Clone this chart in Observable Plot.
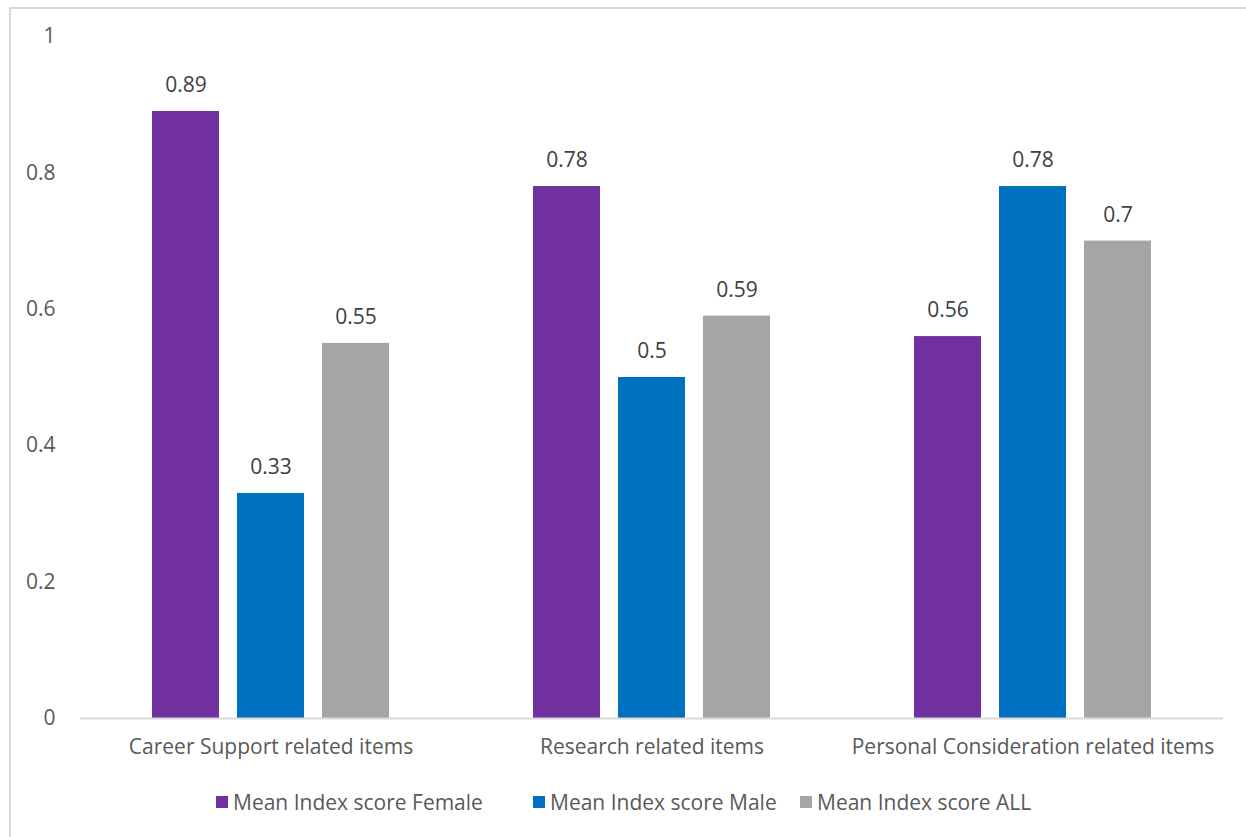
<!DOCTYPE html>
<html>
<head>
<meta charset="utf-8">
<script src="https://cdn.jsdelivr.net/npm/d3@7"></script>
<script src="https://cdn.jsdelivr.net/npm/@observablehq/plot@0.6"></script>
<style>
  html, body { margin: 0; padding: 0; background: #fff; }
  body { width: 1246px; height: 837px; position: relative; overflow: hidden; font-family: "Open Sans", sans-serif; }
  #frame { position: absolute; left: 9px; top: 7px; width: 1400px; height: 1000px; border-left: 2px solid #d9d9d9; border-top: 2px solid #d9d9d9; box-sizing: border-box; }
  #chart { position: absolute; left: 0; top: 0; }
  .legend-item { position: absolute; top: 788px; display: flex; align-items: center; font-size: 21px; color: #595959; white-space: nowrap; }
  .swatch { width: 12px; height: 12px; margin-right: 5px; }
</style>
</head>
<body>
<div id="frame"></div>
<div id="chart"></div>
<div id="legend"></div>
<script>
const categories = ["Career Support related items", "Research related items", "Personal Consideration related items"];
const series = ["Mean Index score Female", "Mean Index score Male", "Mean Index score ALL"];
const female = [0.89, 0.78, 0.56];
const male = [0.33, 0.5, 0.78];
const all = [0.55, 0.59, 0.7];
const colors = ["#7030A0", "#0070C0", "#A5A5A5"];
const yTicks = [0, 0.2, 0.4, 0.6, 0.8, 1];

const seriesValues = [female, male, all];
const data = categories.flatMap((c, i) => series.map((s, j) => ({category: c, series: s, value: seriesValues[j][i]})));

const chart = Plot.plot({
  width: 1246,
  height: 770,
  marginTop: 36,
  marginBottom: 52,
  marginLeft: 79,
  marginRight: 23,
  style: {fontFamily: "'Open Sans', sans-serif", background: "transparent"},
  fx: {domain: categories, padding: 0, label: null},
  x: {domain: series, paddingInner: 0.2118, paddingOuter: 0.847, axis: null},
  y: {domain: [0, 1], label: null},
  color: {domain: series, range: colors},
  marks: [
    Plot.barY(data, {fx: "category", x: "series", y: "value", fill: "series"}),
    Plot.text(data, {fx: "category", x: "series", y: "value", text: d => String(d.value), dy: -26, fontSize: 21, fill: "#404040"}),
    Plot.ruleY([0], {stroke: "#d9d9d9", strokeWidth: 2}),
    Plot.axisY({ticks: yTicks, tickFormat: d => String(d), tickSize: 0, tickPadding: 25, fontSize: 21, color: "#595959", label: null}),
    Plot.axisFx({anchor: "bottom", tickSize: 0, tickPadding: 21, fontSize: 21, color: "#595959", label: null})
  ]
});
document.getElementById("chart").appendChild(chart);

const legendX = [216, 533, 800];
const legend = document.getElementById("legend");
series.forEach((s, i) => {
  const item = document.createElement("div");
  item.className = "legend-item";
  item.style.left = legendX[i] + "px";
  const sw = document.createElement("div");
  sw.className = "swatch";
  sw.style.background = colors[i];
  const label = document.createElement("span");
  label.textContent = s;
  item.appendChild(sw);
  item.appendChild(label);
  legend.appendChild(item);
});
</script>
</body>
</html>
